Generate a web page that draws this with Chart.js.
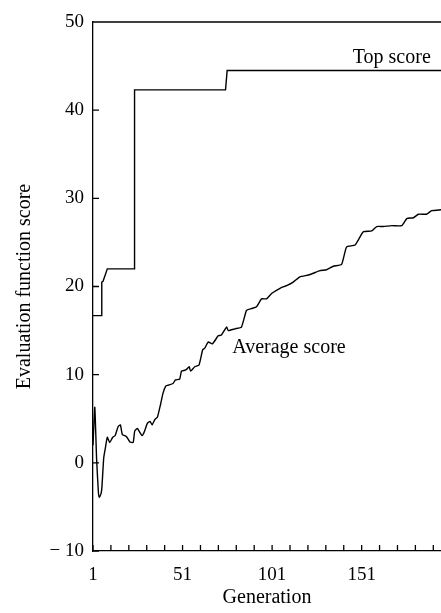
<!DOCTYPE html>
<html>
<head>
<meta charset="utf-8">
<script src="https://cdn.jsdelivr.net/npm/chart.js@4"></script>
<style>
  html, body { margin: 0; padding: 0; background: #fff; }
  #wrap { width: 441px; height: 613px; }
</style>
</head>
<body>
<div id="wrap"><canvas id="myChart"></canvas></div>
<script>
var SERIES = ['Top score', 'Average score'];

var TOP_GEN   = [1, 5.7, 5.9, 6.6, 9, 23.9, 24.2, 75, 75.9, 195.3];
var TOP_SCORE = [16.7, 16.7, 20.5, 20.6, 22, 22, 42.3, 42.3, 44.5, 44.5];

var AVG_GEN = [1, 2, 3, 4, 4.5, 5.5, 6, 7, 8, 9, 10.3, 12, 13.4, 15, 16.3, 17.4, 19.6, 21.5, 23.4,
  24.3, 25.8, 27, 28.3, 29.4, 31.4, 32.9, 34, 35.5, 37, 38.8, 40.1, 41.6, 42.9, 45.7, 47, 49.4,
  50.4, 52.3, 53.2, 54.7, 55.5, 57.8, 60.2, 62.2, 63.4, 65.3, 67.7, 70.9, 72.7, 75.6, 76.5,
  80.2, 83.9, 86.7, 89.5, 92.3, 95.1, 97.9, 100.7, 105.4, 109.1, 112.8, 116.5, 121.2, 124,
  127.7, 131.4, 135.2, 139.8, 142.6, 147.3, 151.9, 156.6, 159.4, 163, 167.8, 173.4, 176.2,
  179.9, 182.7, 187.3, 190.1, 195.3];
var AVG_SCORE = [2.0, 6.3, 0.5, -3.3, -3.9, -3.5, -2.7, 0.6, 1.8, 2.9, 2.3, 2.9, 3.1, 4.1, 4.3, 3.2, 3.0, 2.4, 2.3,
  3.6, 3.9, 3.5, 3.1, 3.4, 4.5, 4.7, 4.3, 4.9, 5.2, 6.7, 7.9, 8.7, 8.8, 9.0, 9.4, 9.5,
  10.4, 10.5, 10.6, 10.9, 10.4, 10.9, 11.1, 12.8, 13.0, 13.7, 13.5, 14.4, 14.5, 15.4, 15.0,
  15.2, 15.4, 17.3, 17.5, 17.7, 18.6, 18.6, 19.2, 19.8, 20.1, 20.5, 21.1, 21.3, 21.5,
  21.8, 21.9, 22.3, 22.5, 24.5, 24.7, 26.2, 26.3, 26.8, 26.8, 26.9, 26.9, 27.7,
  27.8, 28.2, 28.2, 28.6, 28.7];

var X_TICKS = [1, 51, 101, 151];
var X_MINOR = [1, 11, 21, 31, 41, 51, 61, 71, 81, 91, 101, 111, 121, 131, 141, 151, 161, 171, 181, 191];
var Y_TICKS = [-10, 0, 10, 20, 30, 40, 50];

var FONT = '"Liberation Serif", "Times New Roman", serif';

function pts(xs, ys) {
  return xs.map(function (g, i) { return { x: g, y: ys[i] }; });
}

// frame top line, inward tick marks and the two series labels
const frame = {
  id: 'frame',
  afterDatasetsDraw(chart) {
    const { ctx, chartArea: a, scales: { x, y } } = chart;
    ctx.save();
    ctx.strokeStyle = '#000';
    ctx.lineWidth = 1.3;
    ctx.beginPath();
    ctx.moveTo(a.left, a.top);
    ctx.lineTo(a.right, a.top);
    X_MINOR.forEach(function (g) {
      const px = x.getPixelForValue(g);
      ctx.moveTo(px, a.bottom);
      ctx.lineTo(px, a.bottom - 6);
    });
    Y_TICKS.forEach(function (v) {
      const py = y.getPixelForValue(v);
      ctx.moveTo(a.left, py);
      ctx.lineTo(a.left + 6, py);
    });
    ctx.stroke();

    ctx.fillStyle = '#000';
    ctx.font = '20px ' + FONT;
    ctx.textAlign = 'center';
    ctx.textBaseline = 'middle';
    ctx.fillText(SERIES[0], x.getPixelForValue(167.8), y.getPixelForValue(46.0));
    ctx.fillText(SERIES[1], x.getPixelForValue(110.4), y.getPixelForValue(13.0));
    ctx.restore();
  }
};

const ctx = document.getElementById('myChart');
new Chart(ctx, {
  type: 'line',
  data: {
    datasets: [{
      label: SERIES[0],
      data: pts(TOP_GEN, TOP_SCORE),
      borderColor: '#000',
      borderWidth: 1.4,
      pointRadius: 0,
      tension: 0
    }, {
      label: SERIES[1],
      data: pts(AVG_GEN, AVG_SCORE),
      borderColor: '#000',
      borderWidth: 1.4,
      pointRadius: 0,
      tension: 0.15
    }]
  },
  options: {
    responsive: true,
    maintainAspectRatio: false,
    animation: false,
    layout: { padding: { top: 22, right: 0, left: 0, bottom: 0 } },
    plugins: {
      legend: { display: false },
      tooltip: { enabled: false }
    },
    scales: {
      x: {
        type: 'linear',
        min: 1,
        max: 195.3,
        afterBuildTicks: function (scale) {
          scale.ticks = X_TICKS.map(function (v) { return { value: v }; });
        },
        afterFit: function (scale) { scale.height = 62; },
        grid: { display: false, drawTicks: false },
        border: { display: true, color: '#000', width: 1.3 },
        ticks: {
          color: '#000',
          padding: 13,
          maxRotation: 0,
          font: { family: FONT, size: 19 }
        },
        title: {
          display: true,
          text: 'Generation',
          color: '#000',
          padding: { top: 0, bottom: 3 },
          font: { family: FONT, size: 20 }
        }
      },
      y: {
        min: -10,
        max: 50,
        afterBuildTicks: function (scale) {
          scale.ticks = Y_TICKS.map(function (v) { return { value: v }; });
        },
        afterFit: function (scale) { scale.width = 93; },
        grid: { display: false, drawTicks: false },
        border: { display: true, color: '#000', width: 1.3 },
        ticks: {
          color: '#000',
          padding: 9,
          font: { family: FONT, size: 19 },
          callback: function (v) { return v < 0 ? '\u2212 ' + Math.abs(v) : String(v); }
        },
        title: {
          display: true,
          text: 'Evaluation function score',
          color: '#000',
          padding: { top: 13, bottom: 0 },
          font: { family: FONT, size: 20 }
        }
      }
    }
  },
  plugins: [frame]
});
</script>
</body>
</html>
